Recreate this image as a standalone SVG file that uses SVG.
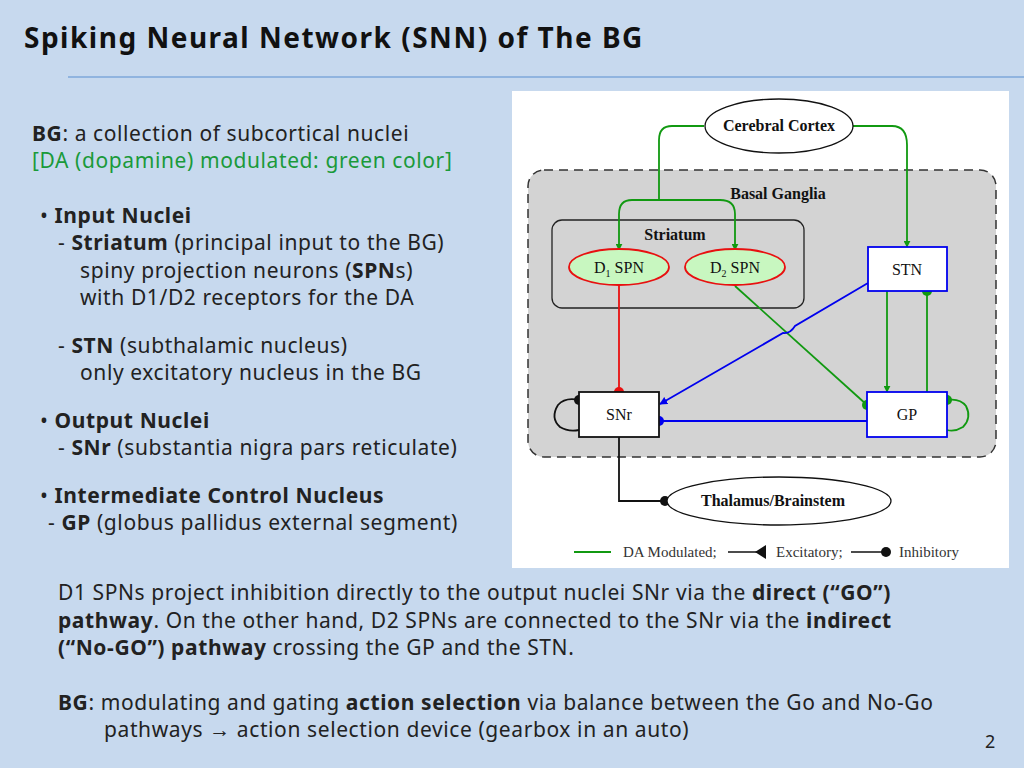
<svg xmlns="http://www.w3.org/2000/svg" width="1024" height="768" viewBox="0 0 1024 768">
<style>
.t{font-family:"Noto Sans","Open Sans",sans-serif;font-size:21px;letter-spacing:0.6px;fill:#222}
.s{font-family:"Liberation Serif",serif;font-size:16px;fill:#111}
.b{font-weight:bold}
.g{fill:#1a9a3a}
</style>
<defs>
<marker id="tg" viewBox="0 0 10 10" refX="9" refY="5" markerWidth="7" markerHeight="7" markerUnits="userSpaceOnUse" orient="auto"><path d="M0,0L10,5L0,10z" fill="#119911"/></marker>
<marker id="tb" viewBox="0 0 10 10" refX="9" refY="5" markerWidth="8" markerHeight="8" markerUnits="userSpaceOnUse" orient="auto"><path d="M0,0L10,5L0,10z" fill="#0000ee"/></marker>
</defs>
<rect width="1024" height="768" fill="#c7d9ee"/>
<text x="24" y="48" style="font-family:'Noto Sans','Open Sans',sans-serif;font-size:28px;font-weight:bold;letter-spacing:1.5px" fill="#111">Spiking Neural Network (SNN) of The BG</text>
<line x1="68" y1="77" x2="1024" y2="77" stroke="#5b8fd0" stroke-width="1.2"/>
<g class="t">
<text x="32" y="141"><tspan class="b">BG</tspan>: a collection of subcortical nuclei</text>
<text x="32" y="168" class="t g">[DA (dopamine) modulated: green color]</text>
<text x="40" y="223"><tspan>• </tspan><tspan class="b">Input Nuclei</tspan></text>
<text x="58" y="250">- <tspan class="b">Striatum</tspan> (principal input to the BG)</text>
<text x="80" y="278">spiny projection neurons (<tspan class="b">SPN</tspan>s)</text>
<text x="80" y="305">with D1/D2 receptors for the DA</text>
<text x="58" y="353">- <tspan class="b">STN</tspan> (subthalamic nucleus)</text>
<text x="80" y="380">only excitatory nucleus in the BG</text>
<text x="40" y="428"><tspan>• </tspan><tspan class="b">Output Nuclei</tspan></text>
<text x="58" y="455">- <tspan class="b">SNr</tspan> (substantia nigra pars reticulate)</text>
<text x="40" y="503"><tspan>• </tspan><tspan class="b">Intermediate Control Nucleus</tspan></text>
<text x="48" y="530">- <tspan class="b">GP</tspan> (globus pallidus external segment)</text>
<text x="58" y="600">D1 SPNs project inhibition directly to the output nuclei SNr via the <tspan class="b">direct (“GO”)</tspan></text>
<text x="58" y="628"><tspan class="b">pathway</tspan>. On the other hand, D2 SPNs are connected to the SNr via the <tspan class="b">indirect</tspan></text>
<text x="58" y="655"><tspan class="b">(“No-GO”) pathway</tspan> crossing the GP and the STN.</text>
<text x="58" y="710"><tspan class="b">BG</tspan>: modulating and gating <tspan class="b">action selection</tspan> via balance between the Go and No-Go</text>
<text x="104" y="737">pathways → action selection device (gearbox in an auto)</text>
<text x="985" y="748" style="font-size:18px">2</text>
</g>
<rect x="512" y="91" width="497" height="477" fill="#fff"/>
<rect x="528" y="170" width="468" height="287" rx="16" fill="#d3d3d3" stroke="#333" stroke-width="1.5" stroke-dasharray="9,6"/>
<text x="778" y="199" class="s b" text-anchor="middle">Basal Ganglia</text>
<g id="striatum"><rect x="552" y="220" width="252" height="88" rx="10" fill="none" stroke="#222" stroke-width="1.3"/>
<text x="675" y="240" class="s b" text-anchor="middle" font-size="15">Striatum</text></g>
<g id="connectors" fill="none" stroke-width="1.8">
<path d="M704,126H672Q659,126 659,140V200" stroke="#119911"/>
<path d="M659,200H632Q619,200 619,214V250" stroke="#119911" marker-end="url(#tg)"/>
<path d="M659,200H720Q735,200 735,214V250" stroke="#119911" marker-end="url(#tg)"/>
<path d="M853,126H892Q907,126 907,145V247" stroke="#119911" marker-end="url(#tg)"/>
<path d="M619,285V392" stroke="#e81010"/>
<circle cx="619" cy="392" r="5" fill="#e81010"/>
<path d="M735,286L867,405" stroke="#119911"/>
<circle cx="867" cy="405" r="5" fill="#119911"/>
<path d="M868,283L795,326Q790,334 783,333L660,404" stroke="#0000ee" marker-end="url(#tb)"/>
<path d="M887,291V392" stroke="#119911" marker-end="url(#tg)"/>
<path d="M927,392V291" stroke="#119911"/>
<circle cx="927" cy="291" r="5" fill="#119911"/>
<path d="M867,421H659" stroke="#0000ee"/>
<circle cx="659" cy="421" r="5" fill="#0000ee"/>
<path d="M579,400Q565,397 558,405Q550,418 560,427Q568,432 579,430" stroke="#111"/>
<circle cx="579" cy="400" r="5" fill="#111"/>
<path d="M947,400Q960,398 966,406Q972,418 963,427Q955,432 947,430" stroke="#119911"/>
<circle cx="947" cy="400" r="5" fill="#119911"/>
<path d="M619,437V501H665" stroke="#111"/>
<circle cx="665" cy="501" r="5" fill="#111"/>
</g>
<g id="cortex"><ellipse cx="779" cy="126" rx="74" ry="27" fill="#fff" stroke="#111" stroke-width="1.3"/>
<text x="779" y="131" class="s b" text-anchor="middle" font-size="15">Cerebral Cortex</text></g>
<g id="d1"><ellipse cx="619" cy="267" rx="50" ry="18" fill="#c8f7c0" stroke="#e81010" stroke-width="1.8"/>
<text x="619" y="273" class="s" text-anchor="middle">D<tspan font-size="10" dy="4">1</tspan><tspan dy="-4"> SPN</tspan></text></g>
<g id="d2"><ellipse cx="735" cy="267" rx="50" ry="18" fill="#c8f7c0" stroke="#e81010" stroke-width="1.8"/>
<text x="735" y="273" class="s" text-anchor="middle">D<tspan font-size="10" dy="4">2</tspan><tspan dy="-4"> SPN</tspan></text></g>
<g id="stn"><rect x="868" y="247" width="79" height="44" fill="#fff" stroke="#0000ee" stroke-width="1.8"/>
<text x="907" y="275" class="s" text-anchor="middle">STN</text></g>
<g id="snr"><rect x="579" y="392" width="80" height="45" fill="#fff" stroke="#111" stroke-width="1.8"/>
<text x="619" y="420" class="s" text-anchor="middle">SNr</text></g>
<g id="gp"><rect x="867" y="392" width="80" height="45" fill="#fff" stroke="#0000ee" stroke-width="1.8"/>
<text x="907" y="420" class="s" text-anchor="middle">GP</text></g>
<g id="thalamus"><ellipse cx="779" cy="501" rx="112" ry="24" fill="#fff" stroke="#111" stroke-width="1.3"/>
<text x="773" y="506" class="s b" text-anchor="middle">Thalamus/Brainstem</text></g>
<g id="legend" font-family="Liberation Serif" font-size="15" fill="#333">
<line x1="574" y1="552" x2="611" y2="552" stroke="#119911" stroke-width="1.8"/>
<text x="623" y="557">DA Modulated;</text>
<line x1="728" y1="552" x2="765" y2="552" stroke="#111" stroke-width="1.5"/>
<path d="M755,552L766,545V559z" fill="#111"/>
<text x="776" y="557">Excitatory;</text>
<line x1="851" y1="552" x2="886" y2="552" stroke="#111" stroke-width="1.5"/>
<circle cx="886" cy="552" r="5" fill="#111"/>
<text x="899" y="557">Inhibitory</text>
</g>
</svg>
